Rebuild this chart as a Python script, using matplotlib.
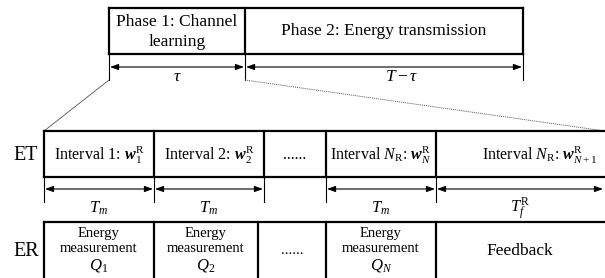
import matplotlib.pyplot as plt

plt.rcParams['font.family'] = 'Liberation Serif'
plt.rcParams['mathtext.fontset'] = 'custom'
plt.rcParams['mathtext.rm'] = 'Liberation Serif'
plt.rcParams['mathtext.it'] = 'Liberation Serif:italic'
plt.rcParams['mathtext.bf'] = 'Liberation Serif:italic:bold'

# phases (top row)
phase_edges = [109, 245, 523]
phase_labels = ['Phase 1: Channel\nlearning', 'Phase 2: Energy transmission']
phase_spans = [r'$\tau$', r'$T-\tau$']

# ET row
et_edges = [44, 154, 264, 326, 436, 608]
et_labels = [r'Interval 1: $\mathbf{w}_1^{\mathrm{R}}$',
             r'Interval 2: $\mathbf{w}_2^{\mathrm{R}}$',
             '......',
             r'Interval $N_{\mathrm{R}}$: $\mathbf{w}_N^{\mathrm{R}}$',
             r'Interval $N_{\mathrm{R}}$: $\mathbf{w}_{N+1}^{\mathrm{R}}$']
et_spans = [r'$T_m$', r'$T_m$', None, r'$T_m$', r'$T_f^{\mathrm{R}}$']

# ER row
er_edges = [44, 154, 258, 326, 436, 608]
er_labels = ['Energy\nmeasurement', 'Energy\nmeasurement', '......',
             'Energy\nmeasurement', 'Feedback']
er_q = [r'$Q_1$', r'$Q_2$', None, r'$Q_N$', None]

fig = plt.figure(figsize=(6.05, 2.78), dpi=100)
ax = fig.add_axes([0, 0, 1, 1])
ax.set_xlim(0, 605)
ax.set_ylim(278, 0)
ax.axis('off')

lw = 1.6


def row(edges, top, bot):
    ax.plot([edges[0], edges[-1]], [top, top], color='black', lw=lw)
    ax.plot([edges[0], edges[-1]], [bot, bot], color='black', lw=lw)
    for x in edges:
        ax.plot([x, x], [top, bot], color='black', lw=lw)


def spans(edges, y, t0, t1, skip=()):
    for i in range(len(edges) - 1):
        if i in skip:
            continue
        ax.annotate('', xy=(edges[i] + 1, y), xytext=(min(edges[i + 1], 604) - 1, y),
                    arrowprops=dict(arrowstyle='<|-|>,head_length=0.5,head_width=0.18',
                                    color='black', lw=0.8, shrinkA=0, shrinkB=0))
    for x in edges:
        if x < 605:
            ax.plot([x, x], [t0, t1], color='black', lw=0.8)


# top row
row(phase_edges, 8, 54)
ax.text(177, 32, phase_labels[0], ha='center', va='center', fontsize=12.5, linespacing=1.3)
ax.text(384, 31, phase_labels[1], ha='center', va='center', fontsize=12.5)
spans(phase_edges, 67, 54, 80)
ax.text(177, 77, phase_spans[0], ha='center', va='center', fontsize=12.5)
ax.text(402, 77, phase_spans[1], ha='center', va='center', fontsize=12.5)

# zoom lines
ax.plot([109, 44], [80, 131], color='#555555', lw=0.6)
ax.plot([245, 605], [80, 131], color='#555555', lw=0.7, ls=(0, (1, 1)))

# ET row
ax.text(26, 156, 'ET', ha='center', va='center', fontsize=14.5)
row(et_edges, 131, 177)
et_cx = [99, 209, 295, 381, 540]
for i, lab in enumerate(et_labels):
    ax.text(et_cx[i], 155, lab, ha='center', va='center', fontsize=11.5)
spans(et_edges, 189, 177, 202, skip=(2,))
span_cx = [99, 209, None, 381, 520]
for i, lab in enumerate(et_spans):
    if lab is None:
        continue
    ax.text(span_cx[i], 208, lab, ha='center', va='center', fontsize=12)

# ER row
ax.text(26, 251, 'ER', ha='center', va='center', fontsize=14.5)
row(er_edges, 222, 300)
er_cx = [99, 206, 292, 381, 520]
for i, lab in enumerate(er_labels):
    if er_q[i] is None:
        fs = 12.5 if i == 4 else 10.5
        ax.text(er_cx[i], 251, lab, ha='center', va='center', fontsize=fs)
    else:
        ax.text(er_cx[i], 241, lab, ha='center', va='center', fontsize=10.5, linespacing=1.25)
        ax.text(er_cx[i], 266, er_q[i], ha='center', va='center', fontsize=12)

fig.savefig('out.png', dpi=100)
